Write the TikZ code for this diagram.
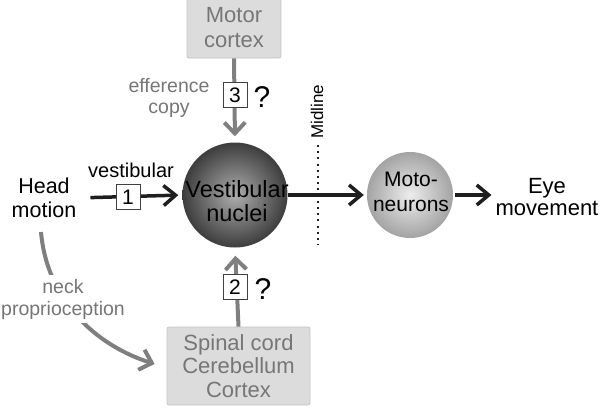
\documentclass[tikz,border=0pt]{standalone}
\usepackage{fontspec}
\setmainfont{Liberation Sans}
\usetikzlibrary{arrows.meta}
\definecolor{boxfill}{HTML}{DCDCDC}
\definecolor{boxline}{HTML}{C4C4C4}
\definecolor{graytext}{HTML}{767676}
\definecolor{grayarrow}{HTML}{7F7F7F}
\definecolor{darkline}{HTML}{1E1E1E}
\begin{document}
\begin{tikzpicture}[x=1pt,y=-1pt,
  graybox/.style={draw=boxline, fill=boxfill, rounded corners=2pt, text=graytext,
    align=center, inner sep=0pt, line width=0.8pt},
  numbox/.style={draw=black!75, fill=white, minimum width=24pt, minimum height=25pt,
    inner sep=0pt, font=\fontsize{21}{24}\selectfont, line width=0.6pt},
  bigtext/.style={align=center, inner sep=0pt, font=\fontsize{22}{24}\selectfont},
  smallgray/.style={align=center, inner sep=0pt, text=graytext, font=\fontsize{19.5}{21}\selectfont},
  blackarrow/.style={draw=darkline, line width=3.5pt, -{Straight Barb[length=12pt,width=20pt]}},
  grayarr/.style={draw=grayarrow, line width=4pt, -{Straight Barb[length=11pt,width=21pt]}},
  qmark/.style={inner sep=0pt, font=\fontsize{30}{32}\selectfont}
]
\useasboundingbox (0,0) rectangle (601,407);

% spheres
\shade[inner color=black!32, outer color=black!76] (235,195) circle (52.5);
\node[minimum size=105pt, circle, inner sep=0pt] (vn) at (235,195) {};
\node[bigtext, font=\fontsize{23.5}{24}\selectfont] (vnt) at (237,201) {Vestibular\\nuclei};
\shade[inner color=black!7, outer color=black!36] (410,195) circle (43);
\node[minimum size=86pt, circle, inner sep=0pt] (mn) at (410,195) {};
\node[bigtext, font=\fontsize{21}{25}\selectfont] (mnt) at (411,192) {Moto-\\neurons};

% boxes
\node[graybox, minimum width=94pt, minimum height=60pt, font=\fontsize{22}{25}\selectfont] (motor) at (234,28) {Motor\\cortex};
\node[graybox, minimum width=143pt, minimum height=78pt, font=\fontsize{22}{23.5}\selectfont] (spinal) at (238.5,366) {Spinal cord\\Cerebellum\\Cortex};

% text labels
\node[bigtext, font=\fontsize{21.5}{24}\selectfont] (head) at (44,198) {Head\\motion};
\node[bigtext, font=\fontsize{22}{22.5}\selectfont] (eye) at (547,197) {Eye\\movement};
\node[inner sep=0pt, font=\fontsize{20}{22}\selectfont] (vlab) at (131,170) {vestibular};
\node[smallgray] (eff) at (169,98) {efference\\copy};
\node[inner sep=0pt, rotate=90, font=\fontsize{17}{20}\selectfont] (mid) at (317,112) {Midline};
\coordinate (mtop) at (318,145);
\coordinate (mbot) at (318,245);
\draw[darkline, line width=2pt, dash pattern=on 2pt off 4.2pt] (mtop) -- (mbot);

% black arrows
\draw[blackarrow, shorten <=14pt, shorten >=4pt] (head.east) -- (vn.west);
\node[numbox] (n1) at (128,197) {1};
\draw[blackarrow, shorten >=3pt] (vn.east) -- (mn.west);
\draw[blackarrow, shorten <=2pt, shorten >=4pt] (mn.east) -- (eye.west |- mn.east);

% gray arrows
\draw[grayarr, shorten >=6pt] (motor.south) -- (vn.north);
\node[numbox] (n3) at (235,95) {3};
\node[qmark] (q3) at (262,97) {?};
\draw[grayarr, shorten >=8pt] (spinal.north) -- (vn.south);
\node[numbox] (n2) at (235,287) {2};
\node[qmark] (q2) at (263,289) {?};

% neck proprioception
\coordinate (nstart) at (41,232);
\draw[grayarr] (nstart) .. controls (47,300) and (95,345) .. ([xshift=-12pt,yshift=2pt]spinal.west);
\node[smallgray, fill=white, inner sep=4pt, font=\fontsize{19.5}{22}\selectfont] (neck) at (63,299) {neck\\proprioception};
\end{tikzpicture}
\end{document}
